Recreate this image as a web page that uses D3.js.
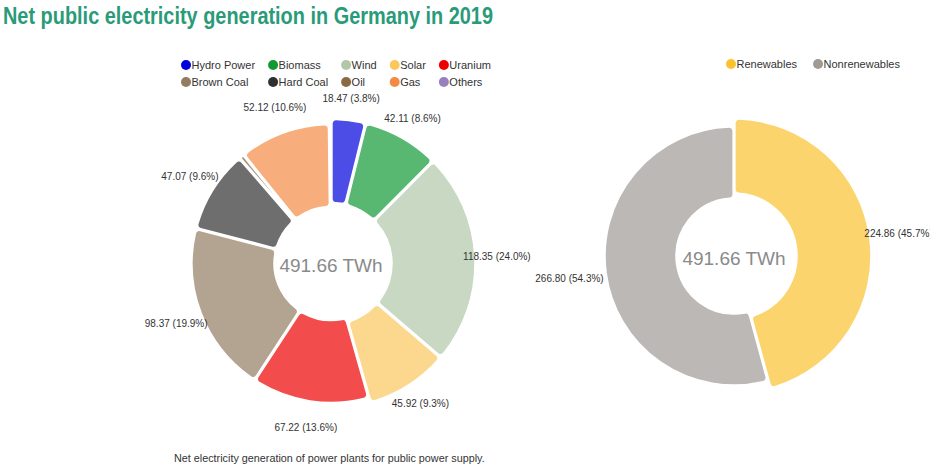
<!DOCTYPE html>
<html>
<head>
<meta charset="utf-8">
<script src="https://cdn.jsdelivr.net/npm/d3@7"></script>
<style>
  html, body { margin: 0; padding: 0; background: #ffffff; }
  svg { display: block; font-family: "Liberation Sans", Arial, sans-serif; }
</style>
</head>
<body>
<svg id="chart" width="930" height="470"></svg>
<script>
// ---------- data ----------
const titleText = "Net public electricity generation in Germany in 2019";
const footerText = "Net electricity generation of power plants for public power supply.";
const totalLabel = "491.66 TWh";

const sources = ["Hydro Power", "Biomass", "Wind", "Solar", "Uranium", "Brown Coal", "Hard Coal", "Oil", "Gas", "Others"];
const sourceValues = [18.47, 42.11, 118.35, 45.92, 67.22, 98.37, 47.07, 2.03, 52.12, 0];
const sourceShares = [3.8, 8.6, 24.0, 9.3, 13.6, 19.9, 9.6, 0.4, 10.6, 0];
const sourceRenewable = [true, true, true, true, false, false, false, false, false, false];
const sourceColors = ["#0000dd", "#119933", "#b0c8a8", "#fbc85e", "#ee0000", "#937c62", "#303030", "#8a6a45", "#f48b44", "#9a7fbf"];

const groups = ["Renewables", "Nonrenewables"];
const groupValues = [224.86, 266.80];
const groupShares = [45.7, 54.3];
const groupRenewable = [true, false];
const groupColors = ["#fbc230", "#a09a95"];

// ---------- setup ----------
const svg = d3.select("#chart");

svg.append("text")
  .attr("x", 3).attr("y", 24)
  .attr("font-size", 23.5).attr("font-weight", "bold")
  .attr("fill", "#2a9b79")
  .attr("textLength", 490).attr("lengthAdjust", "spacingAndGlyphs")
  .text(titleText);

svg.append("text")
  .attr("x", 174).attr("y", 462)
  .attr("font-size", 10.8).attr("fill", "#333")
  .text(footerText);

function legend(names, colors, x0, y0, perRow, gap) {
  const g = svg.append("g");
  const r = 5, textDx = 5.5, rowH = 17;
  const tmp = g.append("text").attr("font-size", 11);
  const widths = names.map(n => { tmp.text(n); return tmp.node().getComputedTextLength(); });
  tmp.remove();
  const nCols = Math.min(perRow, names.length);
  const colX = [];
  let cx = x0;
  for (let c = 0; c < nCols; c++) {
    colX.push(cx);
    let maxW = 0;
    for (let i = c; i < names.length; i += perRow) maxW = Math.max(maxW, widths[i]);
    cx = cx + textDx + maxW + gap + r;
  }
  names.forEach((n, i) => {
    const c = i % perRow, row = Math.floor(i / perRow);
    const y = y0 + row * rowH;
    g.append("circle").attr("cx", colX[c]).attr("cy", y).attr("r", r).attr("fill", colors[i]);
    g.append("text").attr("x", colX[c] + textDx).attr("y", y)
      .attr("dy", "0.35em").attr("font-size", 11).attr("fill", "#333").text(n);
  });
}

function donut(cfg) {
  const { values, shares, renewable, colors, cx, cy, rIn, rOut, labelR } = cfg;
  const total = d3.sum(values);
  const data = values.map((v, i) => ({ v, i }));
  const pie = d3.pie().value(d => d.v).sort(null).padAngle(0.012);
  const arcs = pie(data);
  const g = svg.append("g").attr("transform", `translate(${cx},${cy})`);
  const arcGen = d3.arc()
    .innerRadius(d => renewable[d.data.i] ? rIn[0] : rIn[1])
    .outerRadius(d => renewable[d.data.i] ? rOut[0] : rOut[1])
    .cornerRadius(4);
  g.selectAll("path.slice").data(arcs.filter(a => a.data.v > 0)).join("path")
    .attr("class", "slice")
    .attr("d", arcGen)
    .attr("fill", d => colors[d.data.i])
    .attr("fill-opacity", 0.7)
    .attr("stroke", "#fff").attr("stroke-width", 1.5);
  const lab = d3.arc().innerRadius(labelR).outerRadius(labelR);
  g.selectAll("text.lbl").data(arcs.filter(a => a.data.v / total > 0.01)).join("text")
    .attr("class", "lbl")
    .attr("transform", d => `translate(${lab.centroid(d)})`)
    .attr("text-anchor", "middle").attr("dy", "0.35em")
    .attr("font-size", 10).attr("fill", "#333")
    .text(d => `${d.data.v.toFixed(2)} (${shares[d.data.i].toFixed(1)}%)`);
  g.append("text")
    .attr("text-anchor", "middle").attr("y", 2).attr("dy", "0.35em")
    .attr("font-size", 19).attr("fill", "#8a8a8a")
    .text(totalLabel);
}

legend(sources, sourceColors, 186, 65, 5, 13);
legend(groups, groupColors, 731, 64, 5, 16);

donut({ values: sourceValues, shares: sourceShares, renewable: sourceRenewable, colors: sourceColors,
        cx: 331, cy: 263.5, rIn: [61, 57], rOut: [144, 139], labelR: 166 });
donut({ values: groupValues, shares: groupShares, renewable: groupRenewable, colors: groupColors,
        cx: 734, cy: 256, rIn: [63, 58], rOut: [137, 129], labelR: 166 });
</script>
</body>
</html>
